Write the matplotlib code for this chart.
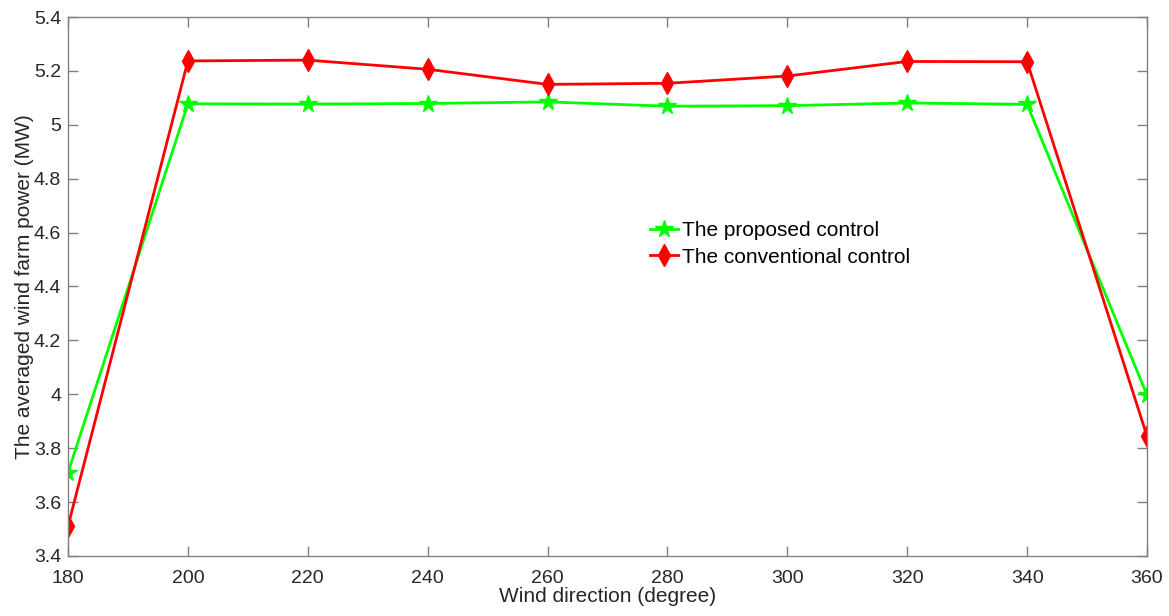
import numpy as np
import matplotlib
matplotlib.use("Agg")
import matplotlib.pyplot as plt
from matplotlib.ticker import FuncFormatter

plt.rcParams["font.family"] = ["Liberation Sans", "DejaVu Sans"]

# wind direction (degree)
wind_dir = [180, 200, 220, 240, 260, 280, 300, 320, 340, 360]
# averaged wind farm power (MW)
proposed = [3.709, 5.078, 5.077, 5.079, 5.085, 5.069, 5.071, 5.081, 5.076, 3.997]
conventional = [3.511, 5.237, 5.240, 5.206, 5.150, 5.154, 5.181, 5.235, 5.234, 3.845]

x_ticks = np.arange(180, 361, 20)
y_ticks = np.round(np.arange(3.4, 5.41, 0.2), 1)

fig = plt.figure(figsize=(11.69, 6.16), dpi=100)
ax = fig.add_axes([68 / 1169, 1 - 556 / 616, (1147 - 68) / 1169, (556 - 17) / 616])

ax.plot(wind_dir, proposed, color="#00ff00", marker="*", markersize=13,
        linewidth=2, label="The proposed control")
ax.plot(wind_dir, conventional, color="#ff0000", marker="d", markersize=11,
        linewidth=2, label="The conventional control")

ax.set_xlim(180, 360)
ax.set_ylim(3.4, 5.4)
ax.set_xticks(x_ticks)
ax.set_yticks(y_ticks)
ax.yaxis.set_major_formatter(FuncFormatter(lambda v, p: f"{v:g}"))

gray = "#808080"
for s in ax.spines.values():
    s.set_color(gray)
    s.set_linewidth(1)
ax.tick_params(direction="in", top=True, right=True, length=7, width=1,
               color=gray, labelcolor="#262626", labelsize=14)
ax.tick_params(axis="x", pad=10)
ax.tick_params(axis="y", pad=5)

ax.set_xlabel("Wind direction (degree)", fontsize=15, color="#262626", labelpad=0)
ax.set_ylabel("The averaged wind farm power (MW)", fontsize=15, color="#262626", labelpad=0)

ax.legend(loc="upper left", bbox_to_anchor=(0.5394, 0.621), frameon=False,
          fontsize=15, handlelength=1.35, handletextpad=0.2, labelspacing=0.35,
          borderaxespad=0, borderpad=0)

fig.savefig("out.png", dpi=100)
